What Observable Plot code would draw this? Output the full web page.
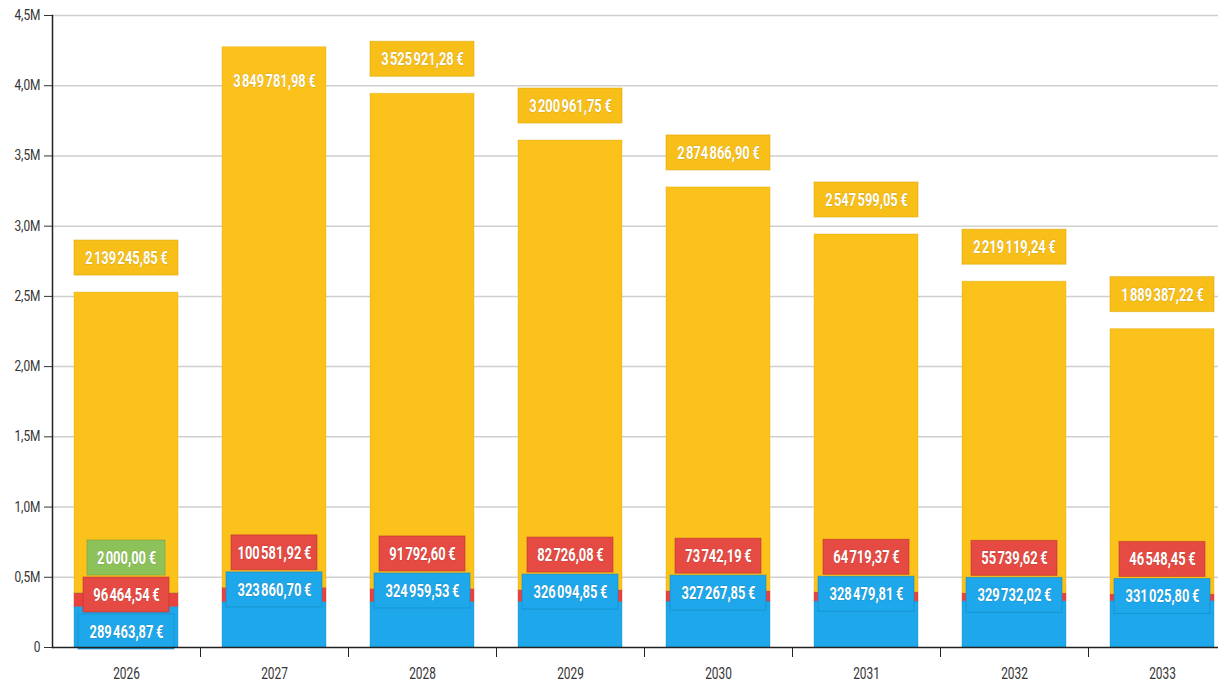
<!DOCTYPE html>
<html><head><meta charset="utf-8">
<script src="https://cdn.jsdelivr.net/npm/d3@7"></script>
<script src="https://cdn.jsdelivr.net/npm/@observablehq/plot@0.6"></script>
<style>
html,body{margin:0;padding:0;background:#fff;overflow:hidden;}
#chart svg{font-family:Roboto,"Noto Sans",sans-serif;}
</style></head><body><div id="chart"></div>
<script>
const years = ["2026","2027","2028","2029","2030","2031","2032","2033"];
const blueValues = [289463.87, 323860.70, 324959.53, 326094.85, 327267.85, 328479.81, 329732.02, 331025.80];
const redValues = [96464.54, 100581.92, 91792.60, 82726.08, 73742.19, 64719.37, 55739.62, 46548.45];
const greenValues = [2000.00, 0, 0, 0, 0, 0, 0, 0];
const yellowValues = [2139245.85, 3849781.98, 3525921.28, 3200961.75, 2874866.90, 2547599.05, 2219119.24, 1889387.22];
const yTicks = [0, 500000, 1000000, 1500000, 2000000, 2500000, 3000000, 3500000, 4000000, 4500000];

const colors = {blue: "#1ea7ea", red: "#e8433f", green: "#8dc25b", yellow: "#fbc21c"};
const boxColors = {blue: "#1ea7ea", red: "#e54a43", green: "#8dc25b", yellow: "#f8bf18"};
const edgeColors = {blue: "#1486c0", red: "#b9302c", green: "#6f9c45", yellow: "#dca400"};

const W = 1218, H = 685, mT = 15, mB = 38, mL = 52;
const plotH = H - mT - mB;
const yMax = 4500000;
const k = yMax / plotH;            // data units per pixel
const boxH = 35, gap = 37;
const insets = {blue: 4, red: 9, green: 13, yellow: 0};

const locale = d3.formatLocale({decimal: ",", thousands: "\u200a", grouping: [3], currency: ["", ""]});
const fmt = v => locale.format(",.2f")(v) + "\u2009€";

const series = [
  {key: "blue", values: blueValues},
  {key: "red", values: redValues},
  {key: "green", values: greenValues},
  {key: "yellow", values: yellowValues}
];

const segments = [];
const labels = [];
years.forEach((year, i) => {
  let acc = 0;
  for (const s of series) {
    const v = s.values[i];
    segments.push({year, key: s.key, y1: acc, y2: acc + v});
    acc += v;
  }
  const small = series.slice(0, 3).filter(s => s.values[i] > 0);
  const smallTop = small.reduce((a, s) => a + s.values[i], 0);
  const top = smallTop + 35 * k;
  small.slice().reverse().forEach((s, j) => {
    labels.push({year, key: s.key, y: top - j * gap * k, text: fmt(s.values[i]), box: true});
  });
  const total = acc;
  let yc = total + 34.5 * k;
  let box = true;
  if (yc + (boxH / 2) * k > yMax) { yc = total - 34 * k; box = false; }
  labels.push({year, key: "yellow", y: yc, text: fmt(yellowValues[i]), box});
});

const step = (1236 - mL) / years.length;

// horizontally condense every text of a mark around its own anchor
const condensed = s => (index, scales, values, dims, ctx, next) => {
  const g = next(index, scales, values, dims, ctx);
  d3.select(g).selectAll("text").attr("transform", function() {
    return (this.getAttribute("transform") || "") + ` scale(${s},1)`;
  });
  return g;
};

const boxMarks = Object.keys(insets).map(key =>
  Plot.barY(labels.filter(d => d.key === key && d.box), {
    x: "year",
    y1: d => d.y - (boxH / 2) * k,
    y2: d => d.y + (boxH / 2) * k,
    fill: boxColors[key],
    stroke: edgeColors[key],
    strokeOpacity: 0.55,
    strokeWidth: 1,
    insetLeft: insets[key],
    insetRight: insets[key]
  })
);

const chart = Plot.plot({
  width: W,
  height: H,
  marginTop: mT,
  marginBottom: mB,
  marginLeft: mL,
  marginRight: 0,
  style: {background: "#fff", color: "#333", fontSize: "13px"},
  x: {domain: years, range: [mL, 1236], paddingInner: 0.3, paddingOuter: 0.15, label: null},
  y: {domain: [0, yMax], label: null},
  marks: [
    Plot.ruleY(yTicks.filter(d => d > 0), {stroke: "#cfcfcf", strokeWidth: 1.5}),
    Plot.barY(segments, {
      x: "year", y1: "y1", y2: "y2",
      fill: d => colors[d.key],
      stroke: d => edgeColors[d.key],
      strokeOpacity: 0.35,
      strokeWidth: 1
    }),
    ...boxMarks,
    Plot.text(labels, {
      x: "year", y: "y", text: "text",
      fill: "#fff", fontSize: 18.5, fontWeight: "bold",
      stroke: "rgba(0,0,0,0.14)", strokeWidth: 1.2,
      textAnchor: "middle", render: condensed(0.7)
    }),
    Plot.ruleY([0], {stroke: "#222", strokeWidth: 1.5}),
    Plot.frame({anchor: "left", stroke: "#222", strokeWidth: 1.5}),
    Plot.axisY({ticks: yTicks, tickSize: 8, tickPadding: 4, fontSize: 14, fill: "#333", render: condensed(0.85),
      tickFormat: d => d === 0 ? "0" : (d / 1e6).toFixed(1).replace(".", ",") + "M"}),
    Plot.axisX({tickSize: 0, tickPadding: 19, fontSize: 17, fill: "#333", render: condensed(0.7)}),
    Plot.axisX({ticks: years.slice(0, -1), dx: step / 2, tickSize: 10, text: null, stroke: "#222"})
  ]
});
document.getElementById("chart").appendChild(chart);
</script>
</body></html>
